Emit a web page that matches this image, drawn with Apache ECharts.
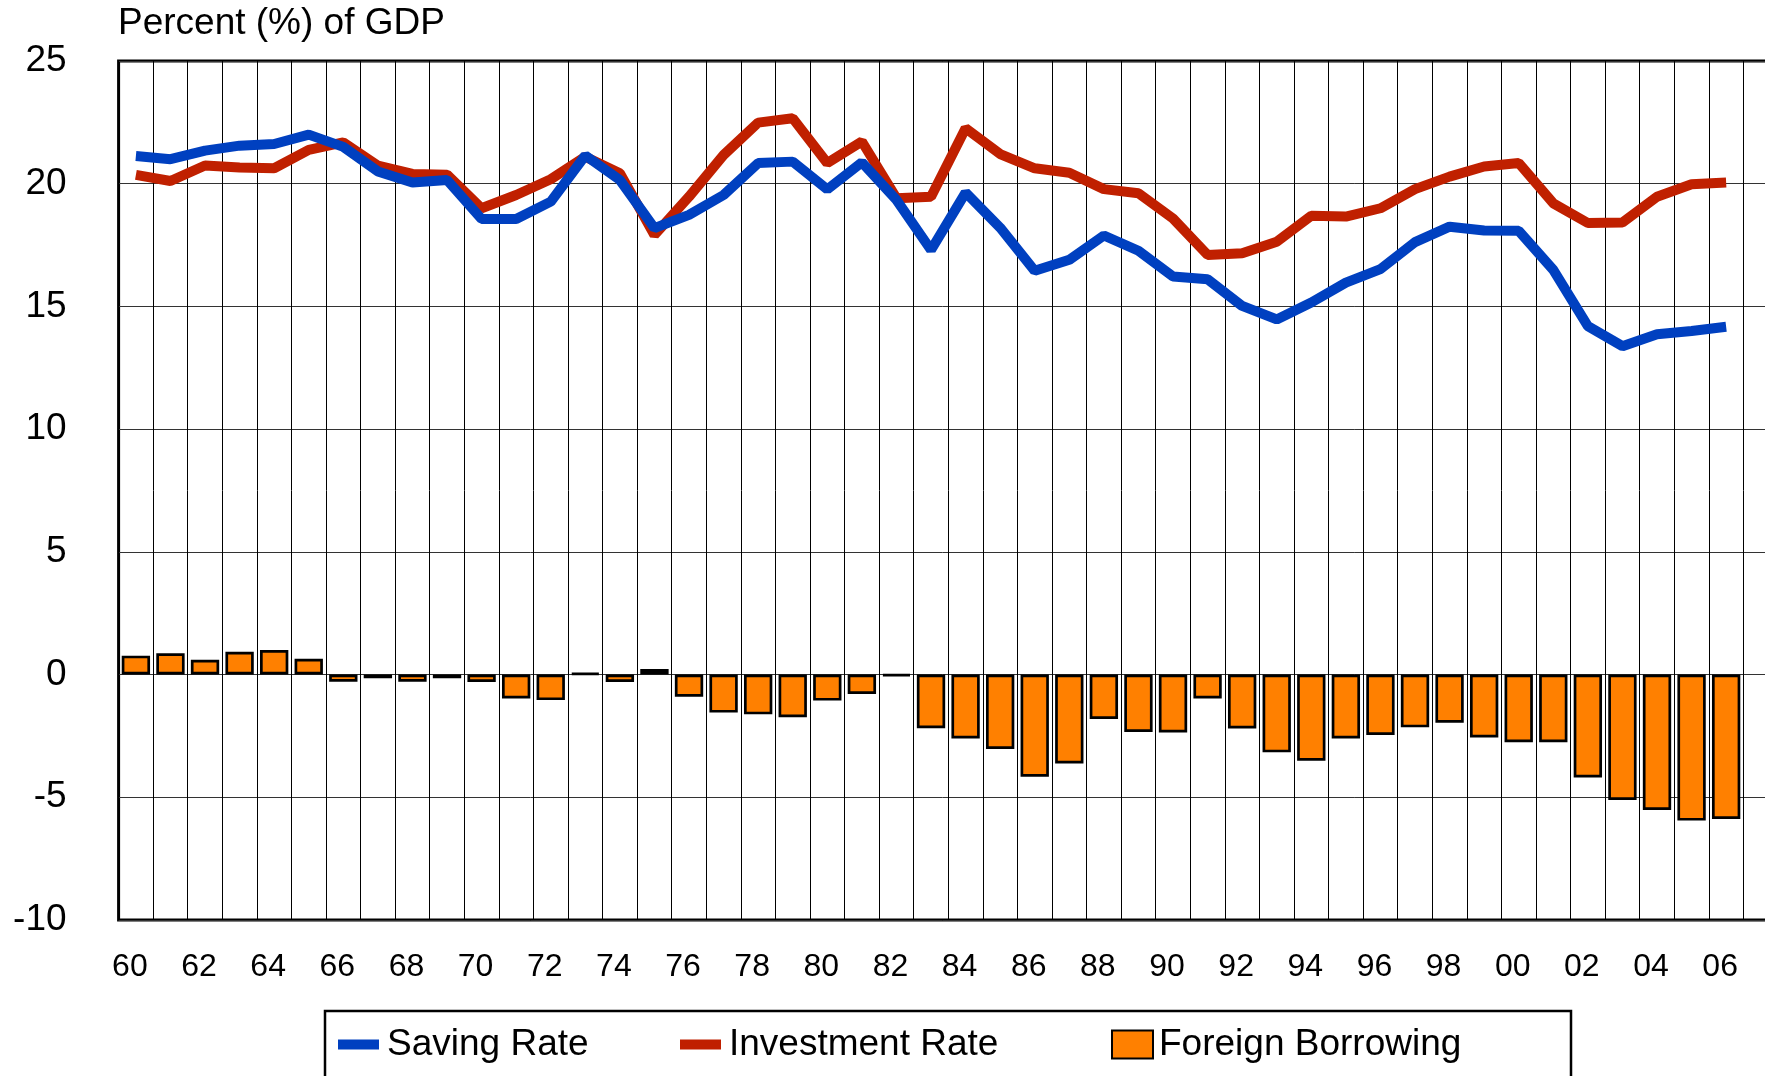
<!DOCTYPE html>
<html>
<head>
<meta charset="utf-8">
<script src="https://cdn.jsdelivr.net/npm/echarts@6/dist/echarts.min.js"></script>
<style>
html,body{margin:0;padding:0;background:#fff;}
#chart{width:1765px;height:1076px;}
</style>
</head>
<body>
<div id="chart"></div>
<script>
const years = ['60','61','62','63','64','65','66','67','68','69',
  '70','71','72','73','74','75','76','77','78','79',
  '80','81','82','83','84','85','86','87','88','89',
  '90','91','92','93','94','95','96','97','98','99',
  '00','01','02','03','04','05','06','07'];

const savingRate = [21.13,21.0,21.35,21.55,21.62,22.0,21.5,20.5,20.05,20.15,
  18.56,18.56,19.27,21.15,20.15,18.19,18.73,19.54,20.84,20.9,
  19.77,20.87,19.34,17.3,19.64,18.21,16.45,16.9,17.89,17.27,
  16.22,16.11,15.02,14.47,15.16,15.97,16.52,17.62,18.25,18.09,
  18.08,16.49,14.2,13.38,13.87,14.0,14.17,null];

const investmentRate = [20.36,20.11,20.74,20.66,20.63,21.38,21.68,20.74,20.4,20.37,
  19.0,19.54,20.18,21.1,20.43,17.91,19.47,21.17,22.49,22.67,
  20.84,21.72,19.41,19.47,22.26,21.21,20.63,20.45,19.78,19.61,
  18.58,17.1,17.17,17.64,18.69,18.66,19.0,19.78,20.29,20.7,
  20.84,19.2,18.4,18.42,19.47,19.98,20.05,null];

const foreignBorrowing = [0.77,0.87,0.6,0.93,1.0,0.64,-0.29,-0.15,-0.29,-0.15,
  -0.3,-0.97,-1.04,0.05,-0.3,0.23,-0.9,-1.55,-1.62,-1.74,
  -1.06,-0.79,-0.05,-2.19,-2.6,-3.03,-4.16,-3.62,-1.81,-2.34,
  -2.36,-0.97,-2.2,-3.17,-3.51,-2.6,-2.46,-2.15,-1.96,-2.56,
  -2.76,-2.76,-4.19,-5.11,-5.52,-5.95,-5.88,null];

const FONT = '"Liberation Sans", Arial, sans-serif';
const BLUE = '#0040C0', RED = '#C02000', ORANGE = '#FF8000';

const chart = echarts.init(document.getElementById('chart'), null, {renderer:'canvas'});
chart.setOption({
  animation: false,
  backgroundColor: '#fff',
  title: {
    text: 'Percent (%) of GDP',
    left: 118, top: 5, padding: 0,
    textStyle: {fontFamily: FONT, fontSize: 37, fontWeight: 'normal', color: '#000'}
  },
  grid: {
    left: 118.6, top: 61, bottom: 156, right: -13,
    outerBoundsMode: 'none', containLabel: false,
    show: true, borderColor: '#000', borderWidth: 3, backgroundColor: 'transparent'
  },
  legend: [
    {data: [{name: 'Saving Rate', icon: 'rect'}], left: 338, top: 1026, padding: 0,
     itemWidth: 41, itemHeight: 10, selectedMode: false,
     textStyle: {fontFamily: FONT, fontSize: 37, color: '#000', padding: [0,0,0,3]}},
    {data: [{name: 'Investment Rate', icon: 'rect'}], left: 680, top: 1026, padding: 0,
     itemWidth: 41, itemHeight: 10, selectedMode: false,
     textStyle: {fontFamily: FONT, fontSize: 37, color: '#000', padding: [0,0,0,3]}},
    {data: [{name: 'Foreign Borrowing', icon: 'rect'}], left: 1111, top: 1026, padding: 0,
     itemWidth: 41, itemHeight: 28, selectedMode: false,
     textStyle: {fontFamily: FONT, fontSize: 37, color: '#000', padding: [0,0,0,1]}}
  ],
  graphic: [{
    type: 'rect', silent: true, z: 10,
    shape: {x: 325, y: 1011, width: 1246, height: 120},
    style: {fill: 'none', stroke: '#000', lineWidth: 2.5}
  }],
  xAxis: {
    type: 'category', data: years, boundaryGap: true,
    axisLine: {show: false, onZero: false},
    axisTick: {show: false},
    axisLabel: {interval: 1, fontFamily: FONT, fontSize: 32, color: '#000', margin: 31, padding: [0,12,0,0]},
    splitLine: {show: true, interval: 0, lineStyle: {color: '#000', width: 1}}
  },
  yAxis: {
    type: 'value', min: -10, max: 25, interval: 5,
    axisLine: {show: false}, axisTick: {show: false},
    axisLabel: {fontFamily: FONT, fontSize: 37, color: '#000', margin: 52, padding: [0,0,10,0]},
    splitLine: {show: true, lineStyle: {color: '#333', width: 1}}
  },
  series: [
    {name: 'Foreign Borrowing', type: 'bar', data: foreignBorrowing, barWidth: '82%',
     itemStyle: {color: ORANGE, borderColor: '#000', borderWidth: 2.7}},
    {name: 'Investment Rate', type: 'line', data: investmentRate, symbol: 'none', showSymbol: false,
     itemStyle: {color: RED}, lineStyle: {color: RED, width: 10}},
    {name: 'Saving Rate', type: 'line', data: savingRate, symbol: 'none', showSymbol: false,
     itemStyle: {color: BLUE}, lineStyle: {color: BLUE, width: 10}}
  ]
});
</script>
</body>
</html>
